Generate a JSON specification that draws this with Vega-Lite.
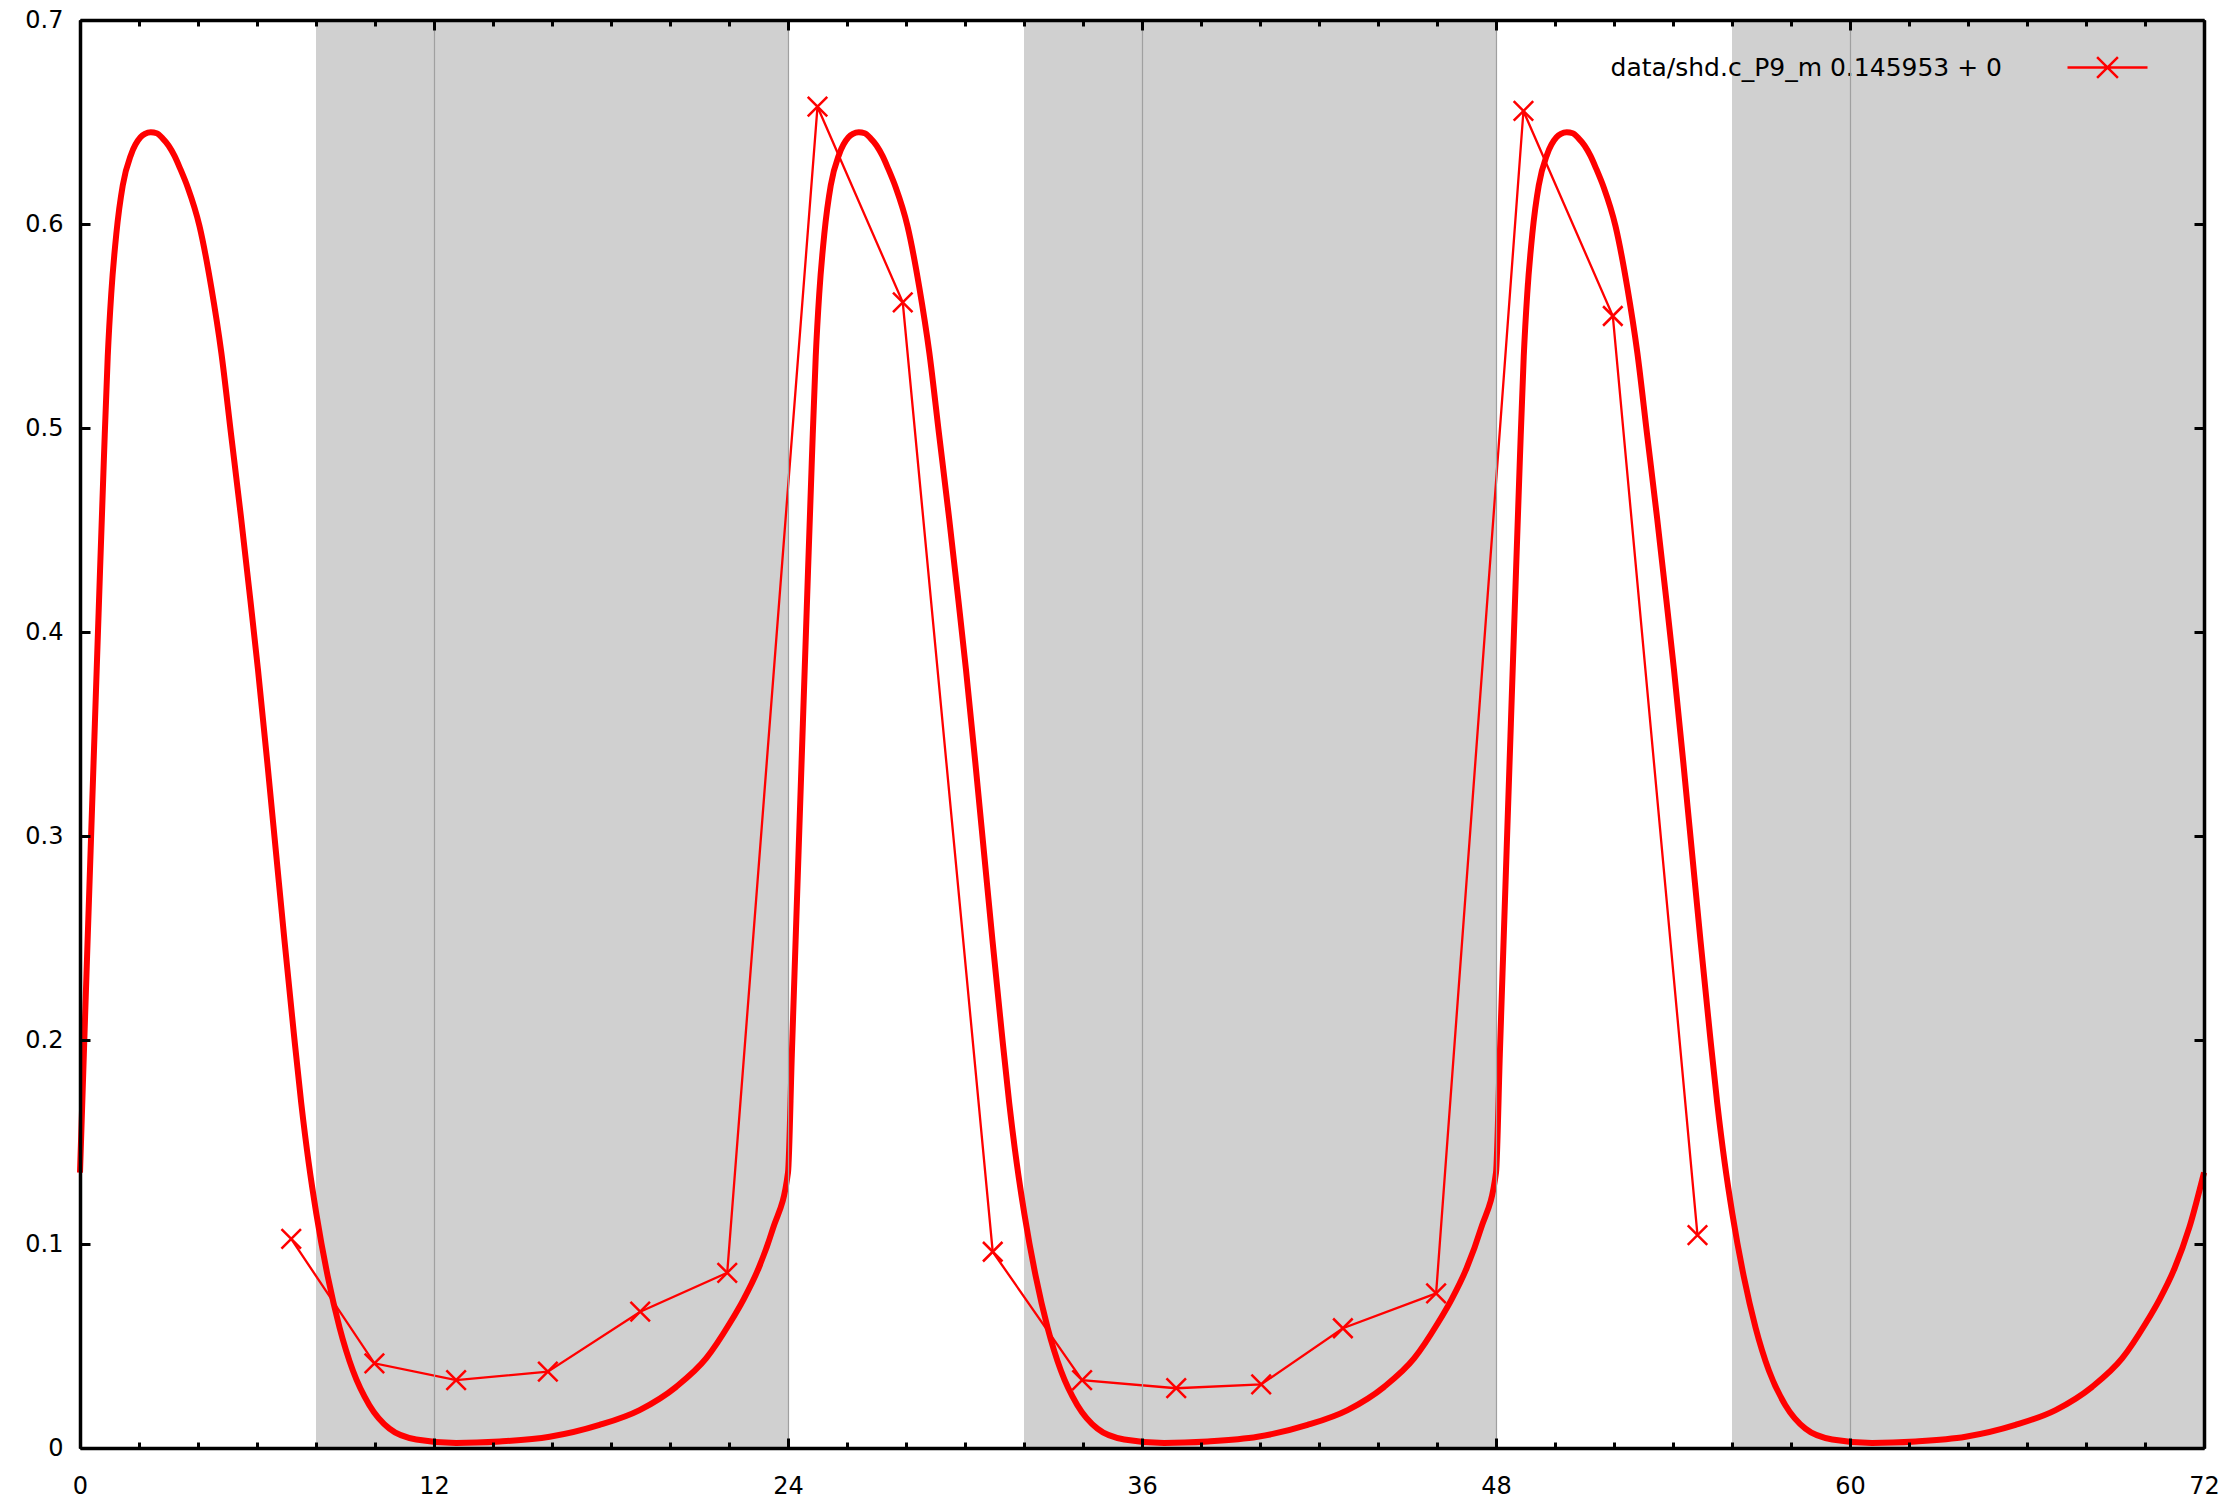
{
  "$schema": "https://vega.github.io/schema/vega-lite/v6.json",
  "width": 2124,
  "height": 1428,
  "autosize": {"type": "none"},
  "padding": {"left": 80, "top": 20, "right": 34, "bottom": 58},
  "background": "white",
  "config": {"view": {"stroke": null}, "font": "DejaVu Sans"},
  "datasets": {
    "night": [
      {"start": 8, "end": 24},
      {"start": 32, "end": 48},
      {"start": 56, "end": 72}
    ],
    "curve": [
      {"t": 0, "v": 0.135}, {"t": 0.13, "v": 0.193}, {"t": 0.24, "v": 0.241}, {"t": 0.36, "v": 0.293}, {"t": 0.49, "v": 0.349}, {"t": 0.63, "v": 0.409}, {"t": 0.81, "v": 0.485}, {"t": 0.94, "v": 0.535}, {"t": 1.06, "v": 0.566}, {"t": 1.23, "v": 0.595}, {"t": 1.45, "v": 0.619}, {"t": 1.73, "v": 0.634}, {"t": 2.05, "v": 0.6425}, {"t": 2.2, "v": 0.6442}, {"t": 2.4, "v": 0.645}, {"t": 2.6, "v": 0.6445}, {"t": 2.8, "v": 0.642}, {"t": 3.0, "v": 0.6385}, {"t": 3.2, "v": 0.6335}, {"t": 3.4, "v": 0.627}, {"t": 3.65, "v": 0.618}, {"t": 4.05, "v": 0.599}, {"t": 4.45, "v": 0.569}, {"t": 4.79, "v": 0.537}, {"t": 5.12, "v": 0.497}, {"t": 5.46, "v": 0.456}, {"t": 5.78, "v": 0.415}, {"t": 6.03, "v": 0.382}, {"t": 6.37, "v": 0.333}, {"t": 6.65, "v": 0.291}, {"t": 6.93, "v": 0.249}, {"t": 7.25, "v": 0.203}, {"t": 7.5, "v": 0.169}, {"t": 7.75, "v": 0.14}, {"t": 8.01, "v": 0.115}, {"t": 8.4, "v": 0.084}, {"t": 8.8, "v": 0.059}, {"t": 9.25, "v": 0.038}, {"t": 9.81, "v": 0.021}, {"t": 10.49, "v": 0.0095}, {"t": 11.4, "v": 0.0042}, {"t": 12.75, "v": 0.0025}, {"t": 14.22, "v": 0.0032}, {"t": 15.92, "v": 0.0055}, {"t": 17.61, "v": 0.0113}, {"t": 18.97, "v": 0.0186}, {"t": 20.21, "v": 0.03}, {"t": 21.23, "v": 0.044}, {"t": 22.02, "v": 0.061}, {"t": 22.5, "v": 0.073}, {"t": 23.0, "v": 0.088}, {"t": 23.5, "v": 0.108}, {"t": 24, "v": 0.135},
      {"t": 24.13, "v": 0.193}, {"t": 24.24, "v": 0.241}, {"t": 24.36, "v": 0.293}, {"t": 24.49, "v": 0.349}, {"t": 24.63, "v": 0.409}, {"t": 24.81, "v": 0.485}, {"t": 24.94, "v": 0.535}, {"t": 25.06, "v": 0.566}, {"t": 25.23, "v": 0.595}, {"t": 25.45, "v": 0.619}, {"t": 25.73, "v": 0.634}, {"t": 26.05, "v": 0.6425}, {"t": 26.2, "v": 0.6442}, {"t": 26.4, "v": 0.645}, {"t": 26.6, "v": 0.6445}, {"t": 26.8, "v": 0.642}, {"t": 27.0, "v": 0.6385}, {"t": 27.2, "v": 0.6335}, {"t": 27.4, "v": 0.627}, {"t": 27.65, "v": 0.618}, {"t": 28.05, "v": 0.599}, {"t": 28.45, "v": 0.569}, {"t": 28.79, "v": 0.537}, {"t": 29.12, "v": 0.497}, {"t": 29.46, "v": 0.456}, {"t": 29.78, "v": 0.415}, {"t": 30.03, "v": 0.382}, {"t": 30.37, "v": 0.333}, {"t": 30.65, "v": 0.291}, {"t": 30.93, "v": 0.249}, {"t": 31.25, "v": 0.203}, {"t": 31.5, "v": 0.169}, {"t": 31.75, "v": 0.14}, {"t": 32.01, "v": 0.115}, {"t": 32.4, "v": 0.084}, {"t": 32.8, "v": 0.059}, {"t": 33.25, "v": 0.038}, {"t": 33.81, "v": 0.021}, {"t": 34.49, "v": 0.0095}, {"t": 35.4, "v": 0.0042}, {"t": 36.75, "v": 0.0025}, {"t": 38.22, "v": 0.0032}, {"t": 39.92, "v": 0.0055}, {"t": 41.61, "v": 0.0113}, {"t": 42.97, "v": 0.0186}, {"t": 44.21, "v": 0.03}, {"t": 45.23, "v": 0.044}, {"t": 46.02, "v": 0.061}, {"t": 46.5, "v": 0.073}, {"t": 47.0, "v": 0.088}, {"t": 47.5, "v": 0.108}, {"t": 48, "v": 0.135},
      {"t": 48.13, "v": 0.193}, {"t": 48.24, "v": 0.241}, {"t": 48.36, "v": 0.293}, {"t": 48.49, "v": 0.349}, {"t": 48.63, "v": 0.409}, {"t": 48.81, "v": 0.485}, {"t": 48.94, "v": 0.535}, {"t": 49.06, "v": 0.566}, {"t": 49.23, "v": 0.595}, {"t": 49.45, "v": 0.619}, {"t": 49.73, "v": 0.634}, {"t": 50.05, "v": 0.6425}, {"t": 50.2, "v": 0.6442}, {"t": 50.4, "v": 0.645}, {"t": 50.6, "v": 0.6445}, {"t": 50.8, "v": 0.642}, {"t": 51.0, "v": 0.6385}, {"t": 51.2, "v": 0.6335}, {"t": 51.4, "v": 0.627}, {"t": 51.65, "v": 0.618}, {"t": 52.05, "v": 0.599}, {"t": 52.45, "v": 0.569}, {"t": 52.79, "v": 0.537}, {"t": 53.12, "v": 0.497}, {"t": 53.46, "v": 0.456}, {"t": 53.78, "v": 0.415}, {"t": 54.03, "v": 0.382}, {"t": 54.37, "v": 0.333}, {"t": 54.65, "v": 0.291}, {"t": 54.93, "v": 0.249}, {"t": 55.25, "v": 0.203}, {"t": 55.5, "v": 0.169}, {"t": 55.75, "v": 0.14}, {"t": 56.01, "v": 0.115}, {"t": 56.4, "v": 0.084}, {"t": 56.8, "v": 0.059}, {"t": 57.25, "v": 0.038}, {"t": 57.81, "v": 0.021}, {"t": 58.49, "v": 0.0095}, {"t": 59.4, "v": 0.0042}, {"t": 60.75, "v": 0.0025}, {"t": 62.22, "v": 0.0032}, {"t": 63.92, "v": 0.0055}, {"t": 65.61, "v": 0.0113}, {"t": 66.97, "v": 0.0186}, {"t": 68.21, "v": 0.03}, {"t": 69.23, "v": 0.044}, {"t": 70.02, "v": 0.061}, {"t": 70.5, "v": 0.073}, {"t": 71.0, "v": 0.088}, {"t": 71.5, "v": 0.108}, {"t": 72, "v": 0.135}
    ],
    "obs": [
      {"t": 7.16, "v": 0.1025}, {"t": 9.98, "v": 0.0415}, {"t": 12.75, "v": 0.0333}, {"t": 15.86, "v": 0.0374}, {"t": 18.99, "v": 0.0668}, {"t": 21.94, "v": 0.0859},
      {"t": 25.0, "v": 0.6575}, {"t": 27.89, "v": 0.5616}, {"t": 30.94, "v": 0.0962}, {"t": 33.97, "v": 0.0333}, {"t": 37.16, "v": 0.0293}, {"t": 40.04, "v": 0.0312}, {"t": 42.81, "v": 0.0587}, {"t": 45.97, "v": 0.0758},
      {"t": 48.93, "v": 0.6554}, {"t": 51.96, "v": 0.5549}, {"t": 54.83, "v": 0.1044}
    ]
  },
  "resolve": {"axis": {"x": "independent", "y": "independent"}},
  "layer": [
    {
      "data": {"name": "night"},
      "mark": {"type": "rect", "color": "#d0d0d0"},
      "encoding": {
        "x": {
          "field": "start", "type": "quantitative",
          "scale": {"domain": [0, 72], "nice": false, "zero": false},
          "axis": {
            "orient": "bottom", "title": null, "zindex": 1,
            "values": [0, 12, 24, 36, 48, 60, 72], "format": "d",
            "tickSize": -10, "tickWidth": 3, "tickColor": "black",
            "domain": true, "domainColor": "black", "domainWidth": 3.5,
            "grid": true, "gridColor": "#a0a0a0", "gridWidth": 1.2,
            "labelFont": "DejaVu Sans", "labelFontSize": 24, "labelColor": "black",
            "labelPadding": 36, "labelFlush": false, "labelOverlap": false, "labelBound": false
          }
        },
        "x2": {"field": "end"}
      }
    },
    {
      "data": {"name": "curve"},
      "mark": {"type": "line", "color": "#f00", "strokeWidth": 6, "interpolate": "monotone"},
      "encoding": {
        "x": {
          "field": "t", "type": "quantitative",
          "scale": {"domain": [0, 72], "nice": false, "zero": false},
          "axis": {
            "orient": "top", "title": null, "zindex": 1,
            "values": [0, 12, 24, 36, 48, 60, 72], "labels": false,
            "tickSize": -10, "tickWidth": 3, "tickColor": "black",
            "domain": true, "domainColor": "black", "domainWidth": 3.5, "grid": false
          }
        },
        "y": {
          "field": "v", "type": "quantitative",
          "scale": {"domain": [0, 0.7], "nice": false, "zero": false},
          "axis": {
            "orient": "left", "title": null, "zindex": 1,
            "values": [0, 0.1, 0.2, 0.3, 0.4, 0.5, 0.6, 0.7], "format": ".1~f",
            "tickSize": -10, "tickWidth": 3, "tickColor": "black",
            "domain": true, "domainColor": "black", "domainWidth": 3.5, "grid": false,
            "labelFont": "DejaVu Sans", "labelFontSize": 24, "labelColor": "black",
            "labelPadding": 27, "labelFlush": false, "labelOverlap": false, "labelBound": false
          }
        }
      }
    },
    {
      "data": {"name": "obs"},
      "mark": {"type": "line", "color": "#f00", "strokeWidth": 2.3},
      "encoding": {
        "x": {
          "field": "t", "type": "quantitative",
          "scale": {"domain": [0, 72], "nice": false, "zero": false},
          "axis": {
            "orient": "bottom", "title": null, "zindex": 1,
            "values": [0, 2, 4, 6, 8, 10, 12, 14, 16, 18, 20, 22, 24, 26, 28, 30, 32, 34, 36, 38, 40, 42, 44, 46, 48, 50, 52, 54, 56, 58, 60, 62, 64, 66, 68, 70, 72],
            "labels": false, "domain": false, "grid": false,
            "tickSize": -6, "tickWidth": 3, "tickColor": "black"
          }
        },
        "y": {
          "field": "v", "type": "quantitative",
          "scale": {"domain": [0, 0.7], "nice": false, "zero": false},
          "axis": {
            "orient": "right", "title": null, "zindex": 1,
            "values": [0, 0.1, 0.2, 0.3, 0.4, 0.5, 0.6, 0.7], "labels": false,
            "tickSize": -10, "tickWidth": 3, "tickColor": "black",
            "domain": true, "domainColor": "black", "domainWidth": 3.5, "grid": false
          }
        }
      }
    },
    {
      "data": {"name": "obs"},
      "mark": {"type": "point", "shape": "M-1,-1L1,1M-1,1L1,-1", "size": 380, "filled": false, "strokeWidth": 2.5, "opacity": 1},
      "encoding": {
        "x": {
          "field": "t", "type": "quantitative",
          "scale": {"domain": [0, 72], "nice": false, "zero": false},
          "axis": {
            "orient": "top", "title": null, "zindex": 1,
            "values": [0, 2, 4, 6, 8, 10, 12, 14, 16, 18, 20, 22, 24, 26, 28, 30, 32, 34, 36, 38, 40, 42, 44, 46, 48, 50, 52, 54, 56, 58, 60, 62, 64, 66, 68, 70, 72],
            "labels": false, "domain": false, "grid": false,
            "tickSize": -6, "tickWidth": 3, "tickColor": "black"
          }
        },
        "y": {
          "field": "v", "type": "quantitative",
          "scale": {"domain": [0, 0.7], "nice": false, "zero": false},
          "axis": null
        },
        "color": {
          "datum": "data/shd.c_P9_m 0.145953 + 0",
          "type": "nominal",
          "scale": {"range": ["#f00"]},
          "legend": {
            "title": null, "orient": "none", "legendX": 1986, "legendY": 6,
            "padding": 0,
            "symbolType": "M-1,0L1,0M-0.26,-0.26L0.26,0.26M-0.26,0.26L0.26,-0.26",
            "symbolSize": 6400, "symbolStrokeWidth": 2.5, "symbolStrokeColor": "#f00", "symbolFillColor": "transparent",
            "labelFont": "DejaVu Sans", "labelFontSize": 25, "labelColor": "black",
            "labelAlign": "right", "labelOffset": -147, "labelLimit": 1000
          }
        }
      }
    }
  ]
}
